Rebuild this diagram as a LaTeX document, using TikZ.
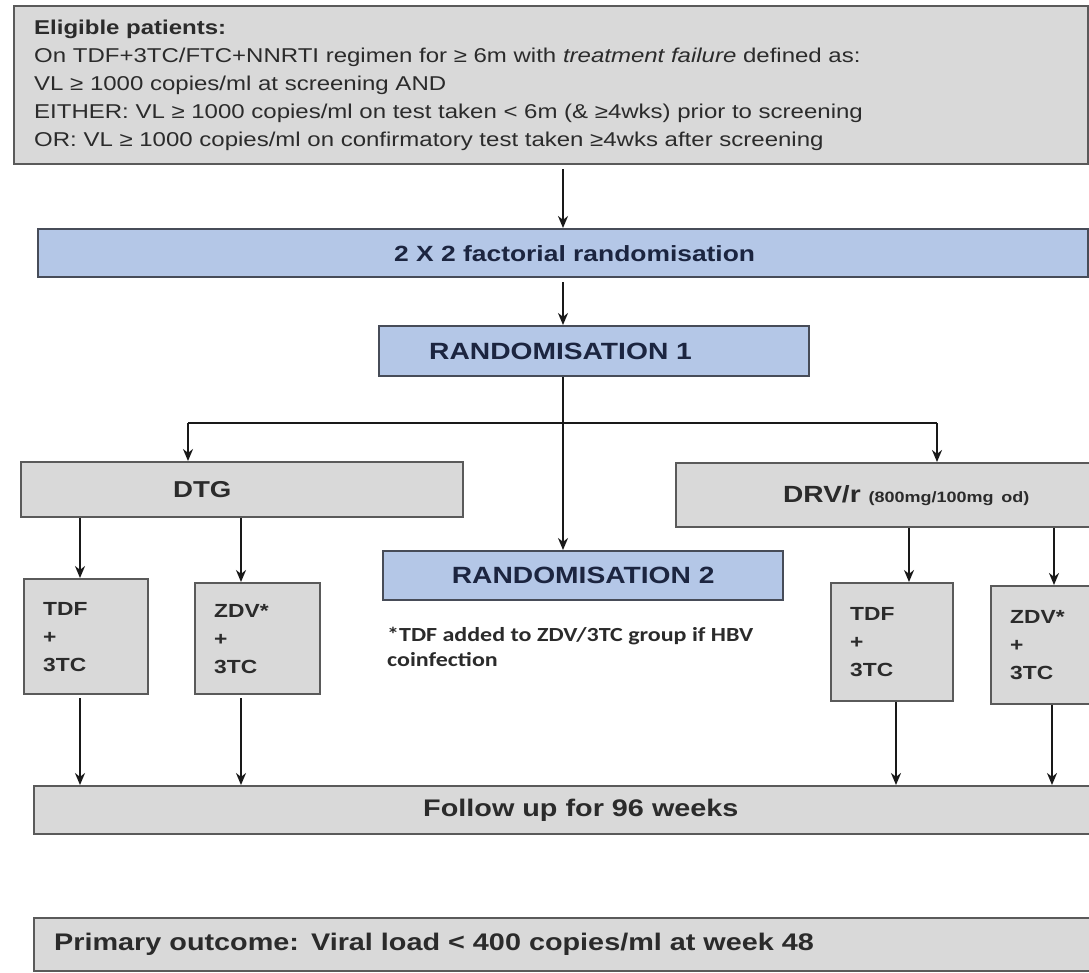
\documentclass[tikz,border=0pt]{standalone}
\usepackage{fontspec}
\setmainfont{Liberation Sans}[FakeStretch=1.2]
\newfontfamily\notefont{Carlito}[FakeStretch=1.2]
\usetikzlibrary{arrows.meta}
\definecolor{boxgray}{HTML}{D9D9D9}
\definecolor{boxline}{HTML}{5A5A5A}
\definecolor{boxblue}{HTML}{B4C7E7}
\definecolor{blueline}{HTML}{474C58}
\definecolor{txt}{HTML}{2B2B2B}
\definecolor{rtxt}{HTML}{1C2540}
\begin{document}
\begin{tikzpicture}[x=1pt,y=-1pt,
  gbox/.style={draw=boxline, fill=boxgray, line width=2.4pt, rectangle, anchor=north west, inner ysep=0pt, text=txt},
  bbox/.style={draw=blueline, fill=boxblue, line width=2.4pt, rectangle, anchor=north west, inner ysep=0pt, text=rtxt},
  arr/.style={line width=2.2pt, draw=black!90, -{Stealth[length=12pt,width=10pt]}},
  plain/.style={line width=2.2pt, draw=black!90},
  bigbold/.style={font=\fontsize{24}{28}\selectfont\bfseries},
  smallbox/.style={gbox, align=left, inner xsep=19pt, font=\fontsize{19}{28}\selectfont\bfseries}
]
\useasboundingbox (0,0) rectangle (1089,973);
\clip (0,0) rectangle (1089,973);

% boxes
\node[gbox, minimum width=1074pt, text width=1034pt, inner xsep=20pt, minimum height=158pt, align=left,
  font=\fontsize{20}{28}\selectfont] (top) at (13,5)
  {\textbf{Eligible patients:}\\
   On TDF+3TC/FTC+NNRTI regimen for ≥ 6m with \textit{treatment failure} defined as:\\
   VL ≥ 1000 copies/ml at screening AND\\
   EITHER: VL ≥ 1000 copies/ml on test taken < 6m (\& ≥4wks) prior to screening\\
   OR: VL ≥ 1000 copies/ml on confirmatory test taken ≥4wks after screening};

\node[bbox, minimum width=1050pt, text width=1050pt, inner xsep=0pt, minimum height=48pt, align=left,
  font=\fontsize{22}{26}\selectfont\bfseries] (fact) at (37,228)
  {\hspace*{356pt}2 X 2 factorial randomisation};

\node[bbox, minimum width=430pt, text width=430pt, inner xsep=0pt, minimum height=50pt, align=left,
  font=\fontsize{23.5}{28}\selectfont\bfseries] (r1) at (378,325)
  {\hspace*{50pt}RANDOMISATION 1};

\node[gbox, minimum width=442pt, text width=442pt, inner xsep=0pt, minimum height=55pt, align=left,
  font=\fontsize{23}{28}\selectfont\bfseries] (dtg) at (20,461)
  {\hspace*{152pt}DTG};

\node[gbox, minimum width=430pt, text width=430pt, inner xsep=0pt, minimum height=64pt, align=left,
  font=\fontsize{23.4}{28}\selectfont\bfseries] (drv) at (675,462)
  {\hspace*{107pt}DRV/r {\fontsize{15}{18}\selectfont (800mg/100mg od)}};

\node[bbox, minimum width=400pt, text width=400pt, inner xsep=0pt, minimum height=49pt, align=center,
  font=\fontsize{23.5}{28}\selectfont\bfseries] (r2) at (382,550)
  {RANDOMISATION 2};

\node[anchor=north west, align=left, inner sep=0pt, text=txt,
  font=\notefont\bfseries\fontsize{20}{25}\selectfont] (note) at (387,627)
  {*TDF added to ZDV/3TC group if HBV\\coinfection};

\node[smallbox, minimum width=124pt, text width=86pt, minimum height=115pt] (tdfa) at (23,578) {TDF\\+\\3TC};
\node[smallbox, minimum width=125pt, text width=87pt, minimum height=111pt] (zdva) at (194,582) {ZDV*\\+\\3TC};
\node[smallbox, minimum width=122pt, text width=84pt, minimum height=118pt] (tdfb) at (830,582) {TDF\\+\\3TC};
\node[smallbox, minimum width=120pt, text width=82pt, minimum height=118pt] (zdvb) at (990,585) {ZDV*\\+\\3TC};

\node[gbox, minimum width=1070pt, text width=1070pt, inner xsep=0pt, minimum height=48pt, align=left,
  bigbold] (fol) at (33,785)
  {\hspace*{389pt}Follow up for 96 weeks};

\node[gbox, minimum width=1070pt, text width=1070pt, inner xsep=0pt, minimum height=53pt, align=left,
  bigbold] (prim) at (33,917)
  {\hspace*{20pt}Primary outcome: Viral load < 400 copies/ml at week 48};

% connectors
\coordinate (cx) at (563,0);
\coordinate (jl) at (188,423);
\coordinate (jr) at (937,423);
\coordinate (xa) at (80,0);
\coordinate (xb) at (241,0);
\coordinate (xc) at (909,0);
\coordinate (xc2) at (896,0);
\coordinate (xd) at (1054,0);
\coordinate (xd2) at (1052,0);

\draw[arr, shorten <=4pt] (top.south -| cx) -- (fact.north -| cx);
\draw[arr, shorten <=4pt] (fact.south -| cx) -- (r1.north -| cx);
\draw[arr] (r1.south -| cx) -- (r2.north -| cx);
\draw[plain] (jl) -- (jr);
\draw[arr] (jl) -- (dtg.north -| jl);
\draw[arr] (jr) -- (drv.north -| jr);

\draw[arr] (dtg.south -| xa) -- (tdfa.north -| xa);
\draw[arr] (dtg.south -| xb) -- (zdva.north -| xb);
\draw[arr] (drv.south -| xc) -- (tdfb.north -| xc);
\draw[arr] (drv.south -| xd) -- (zdvb.north -| xd);

\draw[arr, shorten <=3pt] (tdfa.south -| xa) -- (fol.north -| xa);
\draw[arr, shorten <=3pt] (zdva.south -| xb) -- (fol.north -| xb);
\draw[arr] (tdfb.south -| xc2) -- (fol.north -| xc2);
\draw[arr] (zdvb.south -| xd2) -- (fol.north -| xd2);
\end{tikzpicture}
\end{document}
